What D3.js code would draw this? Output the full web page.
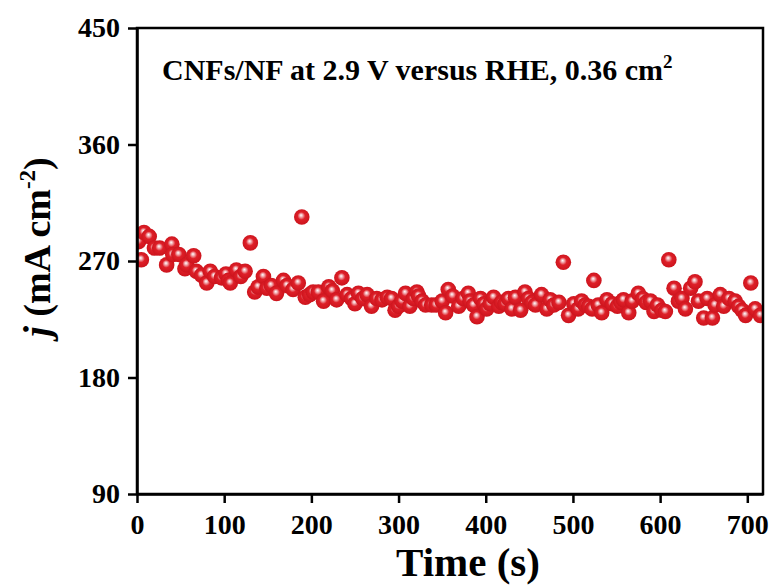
<!DOCTYPE html>
<html>
<head>
<meta charset="utf-8">
<script src="https://cdn.jsdelivr.net/npm/d3@7"></script>
<style>
  body { margin: 0; background: #fff; }
  svg text { font-family: "Liberation Serif", "Times New Roman", serif; font-weight: bold; }
</style>
</head>
<body>
<div id="chart"></div>
<script>
// chronoamperometry
const time = [2, 5, 8, 14, 20, 26, 34, 40, 41, 48, 55, 57, 65, 68, 74, 80, 84, 89, 97, 102,
  105, 107, 114, 119, 124, 130, 135, 139, 145, 149, 154, 160, 168, 172, 179, 185, 189, 193, 198, 202,
  208, 214, 220, 224, 229, 235, 241, 246, 250, 254, 259, 264, 269, 275, 281, 287, 292, 296, 300, 304,
  308, 313, 317, 321, 323, 327, 331, 338, 343, 350, 354, 357, 362, 369, 374, 380, 382, 386, 390, 394,
  398, 401, 405, 409, 415, 418, 422, 426, 430, 434, 440, 445, 449, 453, 457, 464, 470, 474, 478, 484,
  489, 495, 501, 506, 510, 514, 518, 522, 524, 529, 533, 539, 545, 551, 555, 558, 564, 568, 575, 580,
  584, 589, 593, 597, 602, 606, 610, 616, 621, 625, 629, 635, 640, 644, 650, 654, 660, 663, 669, 673,
  679, 686, 690, 694, 698, 704, 709, 715];
const current = [285, 271, 292, 289, 280, 280, 267, 283, 275, 275, 264, 267, 274, 262, 259, 253, 262, 258, 257, 260,
  255, 253, 263, 258, 262, 284, 246, 250, 258, 249, 251, 245, 255, 251, 248, 253, 304, 242, 244, 246,
  246, 239, 250, 247, 240, 257, 244, 241, 237, 245, 241, 244, 235, 241, 240, 242, 241, 232, 235, 239,
  245, 235, 241, 246, 243, 239, 236, 236, 236, 239, 230, 248, 243, 235, 241, 245, 239, 236, 227, 241,
  237, 233, 237, 242, 235, 238, 237, 241, 233, 242, 232, 246, 241, 238, 236, 244, 233, 240, 236, 238,
  269, 228, 237, 233, 239, 236, 235, 233, 255, 236, 230, 240, 237, 235, 238, 240, 230, 239, 245, 241,
  238, 239, 231, 236, 232, 231, 271, 249, 239, 241, 233, 249, 254, 239, 226, 241, 226, 236, 244, 235,
  241, 239, 235, 232, 228, 253, 233, 228];
const xTicks = [0, 100, 200, 300, 400, 500, 600, 700];
const yTicks = [90, 180, 270, 360, 450];
const note = "CNFs/NF at 2.9 V versus RHE, 0.36 cm";

const W = 773, H = 586;
const margin = { top: 28, right: 10, bottom: 92, left: 137 };
const width = W - margin.left - margin.right;
const height = H - margin.top - margin.bottom;

const svg = d3.select('#chart').append('svg')
  .attr('width', W)
  .attr('height', H);

const defs = svg.append('defs');
const grad = defs.append('radialGradient')
  .attr('id', 'ball')
  .attr('cx', '50%').attr('cy', '50%').attr('r', '55%')
  .attr('fx', '45%').attr('fy', '38%');
grad.append('stop').attr('offset', '0%').attr('stop-color', '#ffffff');
grad.append('stop').attr('offset', '18%').attr('stop-color', '#f2b0b4');
grad.append('stop').attr('offset', '45%').attr('stop-color', '#de1f28');
grad.append('stop').attr('offset', '100%').attr('stop-color', '#c9121b');

const g = svg.append('g').attr('transform', `translate(${margin.left},${margin.top})`);

const x = d3.scaleLinear().domain([0, 718]).range([0, width]);
const y = d3.scaleLinear().domain([90, 450]).range([height, 0]);

g.append('defs').append('clipPath').attr('id', 'clip')
  .append('rect').attr('width', width).attr('height', height);

// points
g.append('g').attr('clip-path', 'url(#clip)')
  .selectAll('circle')
  .data(time.map((t, i) => ({ t, j: current[i] })))
  .enter().append('circle')
  .attr('cx', d => x(d.t))
  .attr('cy', d => y(d.j))
  .attr('r', 7.8)
  .attr('fill', 'url(#ball)');

// frame
g.append('rect')
  .attr('width', width).attr('height', height)
  .attr('fill', 'none').attr('stroke', '#000').attr('stroke-width', 2.5);

// x axis
const xAxis = g.append('g')
  .attr('transform', `translate(0,${height})`)
  .call(d3.axisBottom(x).tickValues(xTicks).tickSize(9).tickSizeOuter(0).tickPadding(11));
xAxis.select('.domain').attr('stroke-width', 2.5);
xAxis.selectAll('.tick line').attr('stroke-width', 2.5);
xAxis.selectAll('text').attr('font-size', 28).attr('fill', '#000')
  .attr('font-family', '"Liberation Serif", serif').attr('font-weight', 'bold');

// y axis
const yAxis = g.append('g')
  .call(d3.axisLeft(y).tickValues(yTicks).tickSize(9).tickSizeOuter(0).tickPadding(8));
yAxis.select('.domain').attr('stroke-width', 2.5);
yAxis.selectAll('.tick line').attr('stroke-width', 2.5);
yAxis.selectAll('text').attr('font-size', 28).attr('fill', '#000')
  .attr('font-family', '"Liberation Serif", serif').attr('font-weight', 'bold');

// axis titles
svg.append('text')
  .attr('x', 468).attr('y', 576)
  .attr('text-anchor', 'middle').attr('font-size', 41)
  .text('Time (s)');

const yl = svg.append('text')
  .attr('transform', `translate(50,247) rotate(-90)`)
  .attr('text-anchor', 'middle').attr('font-size', 38);
yl.append('tspan').attr('font-style', 'italic').text('j');
yl.append('tspan').text(' (mA cm');
yl.append('tspan').attr('font-size', 23).attr('dy', -15).text('-2');
yl.append('tspan').attr('dy', 15).text(')');

// annotation
const ann = svg.append('text')
  .attr('x', 162).attr('y', 80).attr('font-size', 30);
ann.append('tspan').text(note);
ann.append('tspan').attr('font-size', 19).attr('dy', -12).text('2');
</script>
</body>
</html>
